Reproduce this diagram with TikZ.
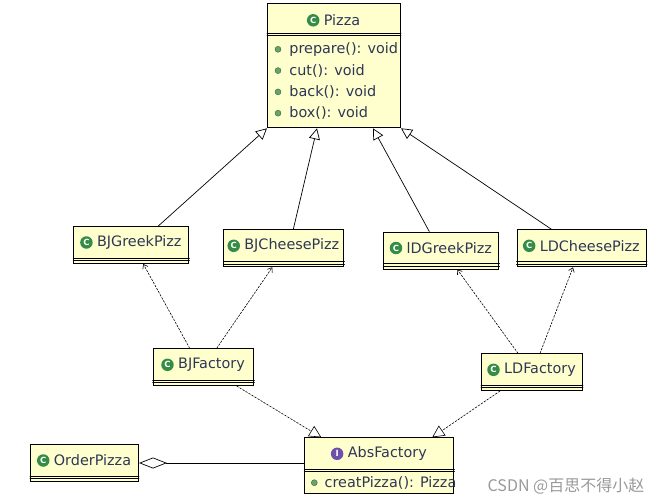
\documentclass[tikz,border=0pt]{standalone}
\usepackage{fontspec}
\setmainfont{DejaVu Sans}
\newfontfamily\cjkfont{Noto Sans CJK SC}
\usepackage{tikz}
\usetikzlibrary{arrows.meta,positioning}

\definecolor{boxfill}{RGB}{255,255,206}
\definecolor{txt}{RGB}{45,55,85}
\definecolor{clsicon}{RGB}{52,140,70}
\definecolor{ificon}{RGB}{110,80,170}
\definecolor{dotgreen}{RGB}{100,165,105}

\begin{document}
\begin{tikzpicture}[x=1pt, y=-1pt, line cap=round,
  cls/.style={draw, fill=boxfill, line width=1pt, inner sep=0pt, anchor=north west},
  title/.style={text=txt, font=\fontsize{14.4}{16}\selectfont, inner sep=0pt},
  meth/.style={text=txt, font=\fontsize{14.4}{16}\selectfont, inner sep=0pt},
  icon/.style={circle, fill=#1, text=white, inner sep=0pt, minimum size=12.5pt,
    font=\bfseries\fontsize{8.5}{8.5}\selectfont},
  mdot/.style={circle, fill=dotgreen, draw=dotgreen!60!black, line width=0.4pt,
    inner sep=0pt, minimum size=6pt},
  gen/.style={-{Triangle[open,length=11pt,width=11pt]}, line width=0.7pt},
  dep/.style={-{Straight Barb[length=4pt,width=6pt]}, dash pattern=on 2pt off 1.5pt, line width=0.6pt},
  real/.style={-{Triangle[open,length=12pt,width=12pt]}, dash pattern=on 2pt off 1.5pt, line width=0.6pt},
  agg/.style={{Diamond[open,length=28pt,width=11pt]}-, line width=0.7pt}]

\useasboundingbox (0,0) rectangle (666,503);

% class boxes
\node[cls, minimum width=133, minimum height=124] (pizza) at (267,3.3) {};
\node[cls, minimum width=115, minimum height=37] (bjg) at (73.3,226) {};
\node[cls, minimum width=120, minimum height=37] (bjc) at (223.3,229.3) {};
\node[cls, minimum width=115, minimum height=37] (ldg) at (383.3,231.5) {};
\node[cls, minimum width=129.5, minimum height=37] (ldc) at (516.5,229.3) {};
\node[cls, minimum width=100.6, minimum height=36.7] (bjf) at (152.7,348.3) {};
\node[cls, minimum width=101, minimum height=36.7] (ldf) at (481,353.3) {};
\node[cls, minimum width=108, minimum height=37] (op) at (30,444) {};
\node[cls, minimum width=149, minimum height=56] (abs) at (304.3,437.3) {};

% compartment lines
\foreach \n/\h in {pizza/30, bjg/32.3, bjc/32.3, ldg/32.3, ldc/32.3, bjf/32, ldf/32, op/32.3, abs/32}
{
  \draw[line width=0.9pt] ([yshift=-\h pt]\n.north west) -- ([yshift=-\h pt]\n.north east);
  \draw[line width=0.9pt] ([yshift={-\h pt-2.4pt}]\n.north west) -- ([yshift={-\h pt-2.4pt}]\n.north east);
}

% titles
\node[title] (pizza-t) at ([xshift=8pt, yshift=-17pt]pizza.north) {Pizza};
\foreach \n/\t in {bjg/BJGreekPizz, bjc/BJCheesePizz, ldg/lDGreekPizz, ldc/LDCheesePizz,
  bjf/BJFactory, ldf/LDFactory, op/OrderPizza}
{
  \node[title] (\n-t) at ([xshift=8pt, yshift=-16.5pt]\n.north) {\t};
}
\node[title] (abs-t) at ([xshift=8pt, yshift=-16.5pt]abs.north) {AbsFactory};

\foreach \n in {pizza, bjg, bjc, ldg, ldc, bjf, ldf, op}
  \node[icon=clsicon, left=4pt of \n-t] {C};
\node[icon=ificon, left=4pt of abs-t] {I};

% operations
\foreach \m [count=\i] in {prepare(): void, cut(): void, back(): void, box(): void}
{
  \node[mdot] (pizza-d\i) at ([xshift=11pt, yshift={-46pt-(\i-1)*21.3pt}]pizza.north west) {};
  \node[meth, right=8pt of pizza-d\i] (pizza-m\i) {\m};
}
\node[mdot] (abs-d1) at ([xshift=10pt, yshift=-45.4pt]abs.north west) {};
\node[meth, right=7pt of abs-d1] (abs-m1) {creatPizza(): Pizza};

% generalization
\draw[gen] ([xshift=85pt]bjg.north west) -- (pizza.south west);
\draw[gen] ([xshift=70pt]bjc.north west) -- ([xshift=50pt]pizza.south west);
\draw[gen] ([xshift=46pt]ldg.north west) -- ([xshift=106pt]pizza.south west);
\draw[gen] ([xshift=35pt]ldc.north west) -- (pizza.south east);

% dependencies
\draw[dep] ([xshift=37pt]bjf.north west) -- ([xshift=70pt]bjg.south west);
\draw[dep] ([xshift=64pt]bjf.north west) -- ([xshift=49pt]bjc.south west);
\draw[dep] ([xshift=37pt]ldf.north west) -- ([xshift=74pt]ldg.south west);
\draw[dep] ([xshift=59pt]ldf.north west) -- ([xshift=56.5pt]ldc.south west);

% realization
\draw[real] ([xshift=84pt]bjf.south west) -- ([xshift=17pt]abs.north west);
\draw[real] ([xshift=19pt]ldf.south west) -- ([xshift=128pt]abs.north west);

% aggregation
\draw[agg] (op.east) -- (op.east -| abs.west);

\node[text=black!40, font=\cjkfont\fontsize{16}{18}\selectfont] (mark) at (566,486) {CSDN @百思不得小赵};

\end{tikzpicture}
\end{document}
